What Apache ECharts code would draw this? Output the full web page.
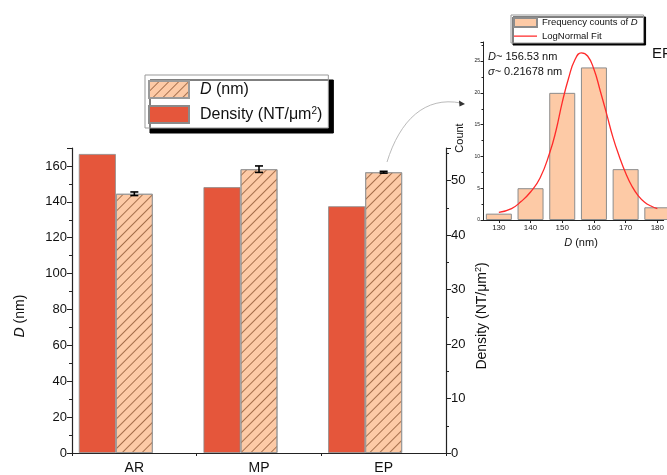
<!DOCTYPE html>
<html>
<head>
<meta charset="utf-8">
<script src="https://cdn.jsdelivr.net/npm/echarts@6/dist/echarts.min.js"></script>
<style>
html,body{margin:0;padding:0;background:#fff;}
#chart{width:667px;height:475px;}
</style>
</head>
<body>
<div id="chart"></div>
<script>
// ---- data ----
const categories = ['AR', 'MP', 'EP'];
const densityValues = [54.9, 48.8, 45.3];      // NT/μm², right axis
const diameterValues = [144.5, 158.2, 156.5];  // nm, left axis
const diameterErrors = [1.0, 1.8, 0.5];
const histBins = [130, 140, 150, 160, 170, 180];
const histCounts = [1, 5, 20, 24, 8, 2];
const fitX = [130, 134, 137, 140, 143, 146, 148, 150, 152, 154, 156, 158, 160, 162, 164, 166, 168, 170, 172, 174, 176, 178, 180];
const fitY = [1.2, 1.8, 2.9, 4.4, 6.6, 10.5, 14.0, 18.5, 22.3, 25.2, 26.3, 25.8, 23.7, 20.3, 16.7, 13.0, 10.0, 7.4, 5.3, 3.8, 2.8, 2.2, 1.8];
const histTickValues = [130, 140, 150, 160, 170, 180];

const RED = '#E5563B';
const PEACH = '#FDCAA6';
const FONT = 'Liberation Sans, Arial, sans-serif';

const hatch = {
  symbol: 'rect', symbolSize: 1,
  dashArrayX: [1, 0], dashArrayY: [1, 6],
  rotation: -Math.PI / 4,
  color: 'rgba(150,95,60,0.85)'
};

const chart = echarts.init(document.getElementById('chart'), null, {renderer: 'canvas'});

const axisLineStyle = {color: '#222', width: 1.2};

const option = {
  animation: false,
  backgroundColor: '#fff',
  textStyle: {fontFamily: FONT},
  grid: [
    {left: 72, top: 148, width: 374, height: 306},
    {left: 483, top: 42, width: 184, height: 178}
  ],
  legend: [
    {
      data: [{name: 'D (nm)', icon: 'rect'}, {name: 'Density', icon: 'rect'}],
      orient: 'vertical', left: 145, top: 75,
      padding: [5, 6, 4, 3],
      itemWidth: 40, itemHeight: 17, itemGap: 6,
      backgroundColor: '#fff', borderColor: '#999', borderWidth: 1,
      shadowColor: '#000', shadowBlur: 0, shadowOffsetX: 5, shadowOffsetY: 5,
      selectedMode: false,
      textStyle: {fontFamily: FONT, fontSize: 16, color: '#111', padding: [0, 0, 0, 6],
        rich: {
          i: {fontFamily: FONT, fontSize: 16, fontStyle: 'italic', color: '#111'},
          sup: {fontFamily: FONT, fontSize: 10, verticalAlign: 'top', color: '#111', padding: [0, 0, 6, 0]}
        }},
      formatter: function (name) {
        if (name === 'D (nm)') return '{i|D} (nm)';
        return 'Density (NT/μm{sup|2})';
      }
    },
    {
      data: [{name: 'Frequency counts of D', icon: 'rect'},
             {name: 'LogNormal Fit', icon: 'path://M0,0L0.01,0L0,0Z M0,4H30V5.4H0Z M0,9L0.01,9L0,9Z'}],
      orient: 'vertical', left: 511, top: 15,
      padding: [2, 6, 2, 2],
      itemWidth: 23, itemHeight: 9, itemGap: 3,
      backgroundColor: '#fff', borderColor: '#999', borderWidth: 1,
      shadowColor: '#000', shadowBlur: 0, shadowOffsetX: 2, shadowOffsetY: 2,
      selectedMode: false,
      textStyle: {fontFamily: FONT, fontSize: 9.5, color: '#111', padding: [0, 0, 0, 0],
        rich: {i: {fontFamily: FONT, fontSize: 9.5, fontStyle: 'italic', color: '#111'}}},
      formatter: function (name) {
        if (name === 'Frequency counts of D') return 'Frequency counts of {i|D}';
        return name;
      }
    }
  ],
  xAxis: [
    {
      type: 'category', gridIndex: 0, data: categories,
      axisLine: {lineStyle: axisLineStyle},
      axisTick: {alignWithLabel: true, length: 5, lineStyle: {color: '#222'}},
      axisLabel: {fontFamily: FONT, fontSize: 14, color: '#111', margin: 8},
      splitLine: {show: false}
    },
    {
      type: 'category', gridIndex: 0, data: categories, position: 'bottom',
      axisLine: {show: false},
      axisTick: {show: true, length: 3, lineStyle: {color: '#222'}},
      axisLabel: {show: false}, splitLine: {show: false}
    },
    {
      type: 'value', gridIndex: 1, min: 125, max: 182,
      axisLine: {show: true, onZero: false, lineStyle: {color: '#222', width: 1}},
      axisTick: {show: true, length: 3, customValues: histTickValues, lineStyle: {color: '#222'}},
      axisLabel: {fontFamily: FONT, fontSize: 8, color: '#222', margin: 4, customValues: histTickValues},
      splitLine: {show: false}
    }
  ],
  yAxis: [
    {
      type: 'value', gridIndex: 0, min: 0, max: 170, interval: 20,
      axisLine: {show: true, lineStyle: axisLineStyle},
      axisTick: {show: true, length: 5, lineStyle: {color: '#222'}},
      minorTick: {show: true, splitNumber: 2, length: 3, lineStyle: {color: '#222'}},
      axisLabel: {fontFamily: FONT, fontSize: 13, color: '#111', margin: 5,
        formatter: v => (v % 20 === 0 ? String(v) : '')},
      splitLine: {show: false}
    },
    {
      type: 'value', gridIndex: 0, min: 0, max: 56, interval: 10, position: 'right',
      axisLine: {show: true, lineStyle: axisLineStyle},
      axisTick: {show: true, length: 5, lineStyle: {color: '#222'}},
      minorTick: {show: true, splitNumber: 2, length: 3, lineStyle: {color: '#222'}},
      axisLabel: {fontFamily: FONT, fontSize: 13, color: '#111', margin: 5,
        formatter: v => (v % 10 === 0 ? String(v) : '')},
      splitLine: {show: false}
    },
    {
      type: 'value', gridIndex: 1, min: 0, max: 28, interval: 5,
      axisLine: {show: true, lineStyle: {color: '#222', width: 1}},
      axisTick: {show: true, length: 2.5, lineStyle: {color: '#222'}},
      minorTick: {show: true, splitNumber: 2, length: 1.5, lineStyle: {color: '#222'}},
      axisLabel: {fontFamily: FONT, fontSize: 5, color: '#222', margin: 3,
        formatter: v => (v % 5 === 0 ? String(v) : '')},
      splitLine: {show: false}
    }
  ],
  series: [
    {
      name: 'Density', type: 'bar', xAxisIndex: 0, yAxisIndex: 1,
      data: densityValues, barWidth: 37, barGap: '0%',
      itemStyle: {color: RED, borderColor: '#8a8a8a', borderWidth: 0.8}
    },
    {
      name: 'D (nm)', type: 'bar', xAxisIndex: 0, yAxisIndex: 0,
      data: diameterValues, barWidth: 37, barGap: '0%',
      itemStyle: {color: PEACH, borderColor: '#9a9a9a', borderWidth: 1, decal: hatch}
    },
    {
      name: 'spacer', type: 'bar', xAxisIndex: 0, yAxisIndex: 0,
      data: categories.map(() => '-'), barWidth: 37, barGap: '0%',
      itemStyle: {color: 'transparent'}, silent: true
    },
    {
      name: 'errors', type: 'custom', xAxisIndex: 0, yAxisIndex: 0,
      data: categories.map((c, i) => [i, diameterValues[i] - diameterErrors[i], diameterValues[i] + diameterErrors[i]]),
      renderItem: function (params, api) {
        const lo = api.coord([api.value(0), api.value(1)]);
        const hi = api.coord([api.value(0), api.value(2)]);
        const x = lo[0], w = 4;
        const st = {stroke: '#000', lineWidth: 1.6};
        return {type: 'group', children: [
          {type: 'line', shape: {x1: x, y1: lo[1], x2: x, y2: hi[1]}, style: st},
          {type: 'line', shape: {x1: x - w, y1: lo[1], x2: x + w, y2: lo[1]}, style: st},
          {type: 'line', shape: {x1: x - w, y1: hi[1], x2: x + w, y2: hi[1]}, style: st}
        ]};
      },
      z: 5
    },
    {
      name: 'Frequency counts of D', type: 'bar', xAxisIndex: 2, yAxisIndex: 2,
      data: histBins.map((b, i) => [b, histCounts[i]]), barWidth: 26,
      itemStyle: {color: PEACH, borderColor: '#8c8c8c', borderWidth: 1}
    },
    {
      name: 'LogNormal Fit', type: 'line', xAxisIndex: 2, yAxisIndex: 2,
      data: fitX.map((x, i) => [x, fitY[i]]), smooth: 0.5, symbol: 'none', showSymbol: false,
      lineStyle: {color: '#FF2A2A', width: 1.3}, itemStyle: {color: '#FF2A2A'}, z: 4
    }
  ],
  graphic: [
    {type: 'text', x: 20, y: 316, rotation: Math.PI / 2,
      style: {text: '{i|D} (nm)', fontFamily: FONT, fontSize: 14, fill: '#111', align: 'center', verticalAlign: 'middle',
        rich: {i: {fontFamily: FONT, fontSize: 14, fontStyle: 'italic', fill: '#111'}}}},
    {type: 'text', x: 482, y: 316, rotation: Math.PI / 2,
      style: {text: 'Density (NT/μm{sup|2})', fontFamily: FONT, fontSize: 14, fill: '#111', align: 'center', verticalAlign: 'middle',
        rich: {sup: {fontFamily: FONT, fontSize: 9, verticalAlign: 'top', fill: '#111', padding: [0, 0, 7, 0]}}}},
    {type: 'text', x: 460, y: 138, rotation: Math.PI / 2,
      style: {text: 'Count', fontFamily: FONT, fontSize: 11, fill: '#111', align: 'center', verticalAlign: 'middle'}},
    {type: 'text', x: 581, y: 243,
      style: {text: '{i|D} (nm)', fontFamily: FONT, fontSize: 11, fill: '#111', align: 'center', verticalAlign: 'middle',
        rich: {i: {fontFamily: FONT, fontSize: 11, fontStyle: 'italic', fill: '#111'}}}},
    {type: 'text', x: 488, y: 57,
      style: {text: '{i|D}~ 156.53 nm', fontFamily: FONT, fontSize: 11, fill: '#111', align: 'left', verticalAlign: 'middle',
        rich: {i: {fontFamily: FONT, fontSize: 11, fontStyle: 'italic', fill: '#111'}}}},
    {type: 'text', x: 488, y: 72,
      style: {text: '{i|σ}~ 0.21678 nm', fontFamily: FONT, fontSize: 11, fill: '#111', align: 'left', verticalAlign: 'middle',
        rich: {i: {fontFamily: FONT, fontSize: 11, fontStyle: 'italic', fill: '#111'}}}},
    {type: 'text', x: 652, y: 54,
      style: {text: 'EP', fontFamily: FONT, fontSize: 15, fill: '#111', align: 'left', verticalAlign: 'middle'}},
    {type: 'bezierCurve', shape: {x1: 387, y1: 162, x2: 461, y2: 103, cpx1: 400, cpy1: 120, cpx2: 425, cpy2: 96},
      style: {stroke: '#bbb', lineWidth: 1, fill: null}},
    {type: 'polygon', shape: {points: [[465, 104], [459, 100.5], [459.5, 106.5]]},
      style: {fill: '#333'}}
  ]
};
chart.setOption(option);
</script>
</body>
</html>
